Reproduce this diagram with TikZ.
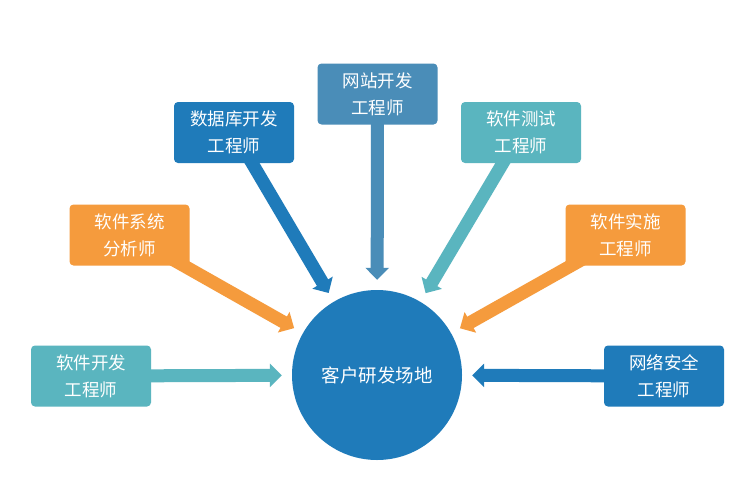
\documentclass[tikz,border=0pt]{standalone}
\usepackage{fontspec}
\newfontfamily\cjk{Noto Sans CJK SC}
\usetikzlibrary{arrows.meta,backgrounds}
\definecolor{dblue}{HTML}{1F7BBA}
\definecolor{sblue}{HTML}{4A8DB8}
\definecolor{teal}{HTML}{5AB5BF}
\definecolor{orng}{HTML}{F59B3D}
\begin{document}
\begin{tikzpicture}[x=1pt,y=-1pt,
  box/.style={rounded corners=4pt, minimum width=120pt, minimum height=61pt,
    text=white, align=center, inner sep=0pt,
    font=\cjk\fontsize{17.5}{27}\selectfont},
  arr/.style={line width=13pt, -{Triangle[width=23pt,length=12pt]}, shorten >=10pt}]
\useasboundingbox (0,0) rectangle (746,503);
\node[circle, fill=dblue, minimum size=170pt, inner sep=0pt, text=white,
  font=\cjk\fontsize{18.5}{20}\selectfont] (c) at (377,375) {客户研发场地};
\node[box, fill=dblue] (db)  at (234,132.5) {数据库开发\\工程师};
\node[box, fill=sblue] (web) at (377.5,94) {网站开发\\工程师};
\node[box, fill=teal]  (tst) at (521,132.5) {软件测试\\工程师};
\node[box, fill=orng]  (sys) at (129.5,235) {软件系统\\分析师};
\node[box, fill=orng]  (imp) at (625.5,235) {软件实施\\工程师};
\node[box, fill=teal]  (dev) at (91,376) {软件开发\\工程师};
\node[box, fill=dblue] (net) at (664,376) {网络安全\\工程师};
\begin{scope}[on background layer]
\fill[white] (0,0) rectangle (746,503);
\draw[arr, dblue] (db.center) -- (c);
\draw[arr, sblue] (web.center) -- (c);
\draw[arr, teal]  (tst.center) -- (c);
\draw[arr, orng]  (sys.center) -- (c);
\draw[arr, orng]  (imp.center) -- (c);
\draw[arr, teal]  (dev.center) -- (c);
\draw[arr, dblue] (net.center) -- (c);
\end{scope}
\end{tikzpicture}
\end{document}
